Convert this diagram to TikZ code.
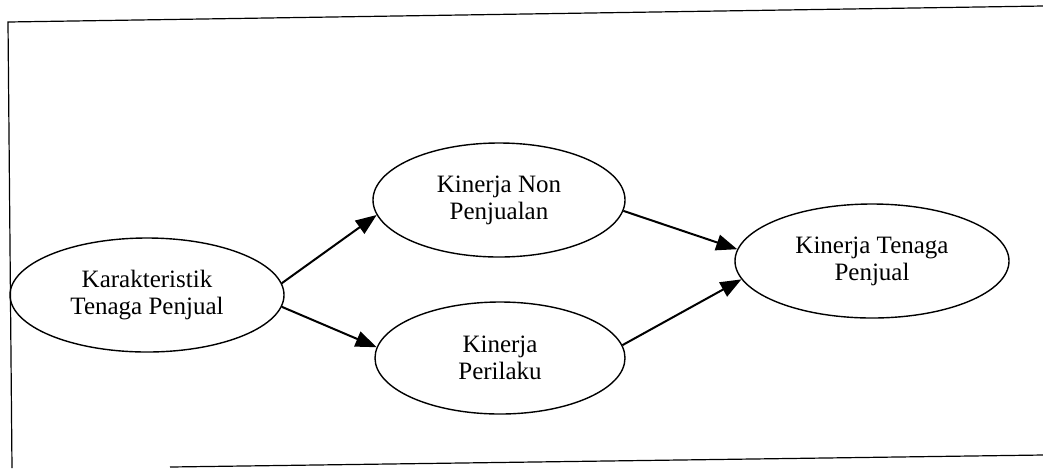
\documentclass[tikz,border=0pt]{standalone}
\usepackage{fontspec}
\setmainfont{Liberation Serif}
\usetikzlibrary{shapes.geometric,arrows.meta}

\begin{document}
\begin{tikzpicture}[x=0.5pt,y=-0.5pt,
        konstruk/.style={draw,ellipse,line width=0.7pt,inner sep=0pt,align=center,
            font=\fontsize{12.5}{13.5}\selectfont},
        panah/.style={line width=1pt,-{Triangle[length=10.5pt,width=8pt]}}]
        \useasboundingbox (0,0) rectangle (1043,468);
        % bingkai
        \draw[line width=0.6pt] (1043,6) -- (8,22) -- (12,468);
        \draw[line width=0.6pt] (170,467) -- (1043,455);
        % konstruk
        \node[konstruk,minimum width=137pt,minimum height=57pt] (kts) at (147,295) {Karakteristik\\Tenaga Penjual};
        \node[konstruk,minimum width=126pt,minimum height=57pt] (knp) at (499,200) {Kinerja Non\\Penjualan};
        \node[konstruk,minimum width=125pt,minimum height=56pt] (kpr) at (500,358) {Kinerja\\Perilaku};
        \node[konstruk,minimum width=137pt,minimum height=57pt] (ktp) at (872,261) {Kinerja Tenaga\\Penjual};
        % panah
        \draw[panah] (kts.5) -- (knp.187);
        \draw[panah] (kts.-5) -- (kpr.175);
        \draw[panah] (knp.-5) -- (ktp.175);
        \draw[panah] (kpr.6) -- (ktp.188);
    \end{tikzpicture}
\end{document}
